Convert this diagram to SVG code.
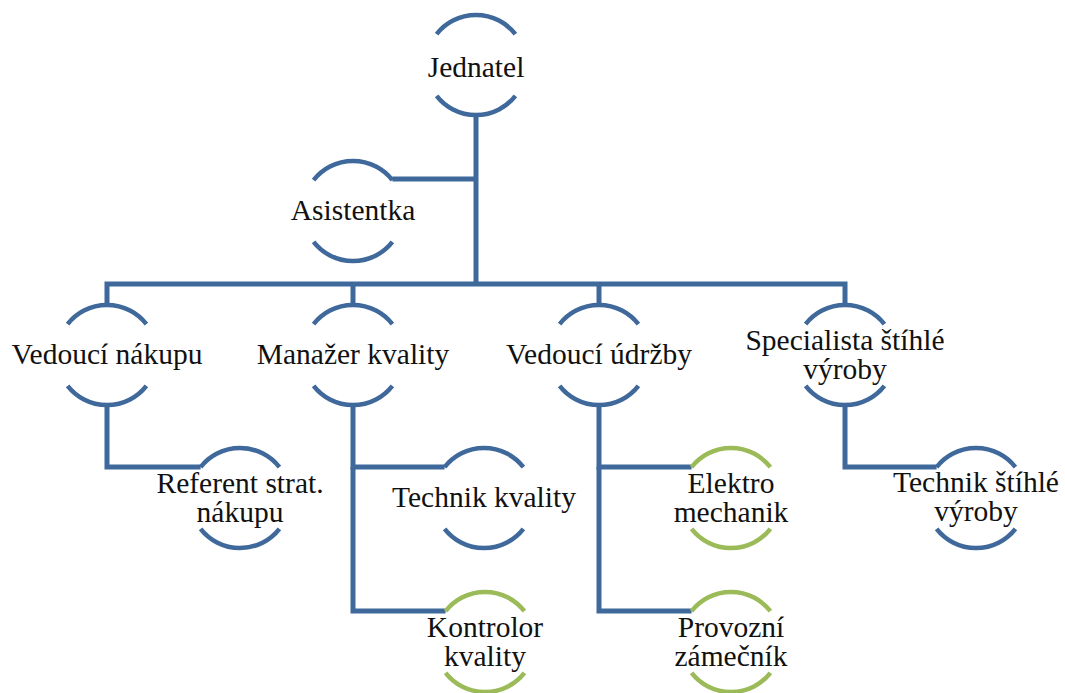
<svg xmlns="http://www.w3.org/2000/svg" width="1065" height="693" viewBox="0 0 1065 693">
  <defs>
    <style>
      .arc { fill: none; stroke-width: 4.5; stroke-linecap: butt; }
      .blue { stroke: #3F689B; }
      .green { stroke: #9BBB59; }
      .conn { fill: none; stroke: #3F689B; stroke-width: 5; stroke-linejoin: miter; }
      text { font-family: 'Liberation Serif', 'Times New Roman', serif; font-size: 29.5px; fill: #111111; text-anchor: middle; }
    </style>
    <!-- node ring: top and bottom arcs of a circle, r = 50, centred on (0,0) -->
    <g id="ringBlue" class="arc blue">
      <path d="M -39.4 -30.8 A 50 50 0 0 1 39.4 -30.8"/>
      <path d="M -39.4 30.8 A 50 50 0 0 0 39.4 30.8"/>
    </g>
    <g id="ringGreen" class="arc green">
      <path d="M -39.4 -30.8 A 50 50 0 0 1 39.4 -30.8"/>
      <path d="M -39.4 30.8 A 50 50 0 0 0 39.4 30.8"/>
    </g>
  </defs>

  <rect width="1065" height="693" fill="#ffffff"/>

  <g id="connectors">
    <path class="conn" d="M 476 115 V 284"/>
    <path class="conn" d="M 392.4 179 H 476"/>
    <path class="conn" d="M 107 305 V 284 H 845 V 305"/>
    <path class="conn" d="M 353 284 V 305"/>
    <path class="conn" d="M 599 284 V 305"/>
    <path class="conn" d="M 107 405 V 467 H 200.6"/>
    <path class="conn" d="M 444.6 467 H 353 V 405"/>
    <path class="conn" d="M 353 467 V 611 H 445.6"/>
    <path class="conn" d="M 691.6 467 H 599 V 405"/>
    <path class="conn" d="M 599 467 V 611 H 691.6"/>
    <path class="conn" d="M 845 405 V 467 H 936.6"/>
  </g>

  <g id="jednatel">
    <use href="#ringBlue" x="476" y="65"/>
    <text x="476" y="77">Jednatel</text>
  </g>
  <g id="asistentka">
    <use href="#ringBlue" x="353" y="211"/>
    <text x="353" y="220">Asistentka</text>
  </g>

  <g id="vedouci-nakupu">
    <use href="#ringBlue" x="107" y="355"/>
    <text x="107" y="364">Vedoucí nákupu</text>
  </g>
  <g id="manazer-kvality">
    <use href="#ringBlue" x="353" y="355"/>
    <text x="353" y="364">Manažer kvality</text>
  </g>
  <g id="vedouci-udrzby">
    <use href="#ringBlue" x="599" y="355"/>
    <text x="599" y="364">Vedoucí údržby</text>
  </g>
  <g id="specialista-stihle-vyroby">
    <use href="#ringBlue" x="845" y="355"/>
    <text x="845" y="350">Specialista štíhlé</text>
    <text x="845" y="379">výroby</text>
  </g>

  <g id="referent-strat-nakupu">
    <use href="#ringBlue" x="240" y="498"/>
    <text x="240" y="493">Referent strat.</text>
    <text x="240" y="522">nákupu</text>
  </g>
  <g id="technik-kvality">
    <use href="#ringBlue" x="484" y="498"/>
    <text x="484" y="507">Technik kvality</text>
  </g>
  <g id="kontrolor-kvality">
    <use href="#ringGreen" x="485" y="642"/>
    <text x="485" y="637">Kontrolor</text>
    <text x="485" y="666">kvality</text>
  </g>
  <g id="elektro-mechanik">
    <use href="#ringGreen" x="731" y="498"/>
    <text x="731" y="493">Elektro</text>
    <text x="731" y="522">mechanik</text>
  </g>
  <g id="provozni-zamecnik">
    <use href="#ringGreen" x="731" y="642"/>
    <text x="731" y="637">Provozní</text>
    <text x="731" y="666">zámečník</text>
  </g>
  <g id="technik-stihle-vyroby">
    <use href="#ringBlue" x="976" y="498"/>
    <text x="976" y="492">Technik štíhlé</text>
    <text x="976" y="521">výroby</text>
  </g>
</svg>
